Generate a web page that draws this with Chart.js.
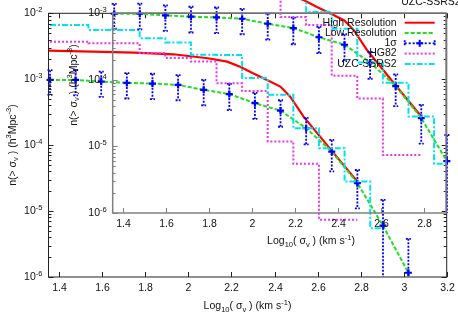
<!DOCTYPE html>
<html>
<head>
<meta charset="utf-8">
<script src="https://cdn.jsdelivr.net/npm/chart.js@4.4.0/dist/chart.umd.min.js"></script>
<style>
html, body { margin: 0; padding: 0; background: #fff; }
#wrap { position: relative; width: 458px; height: 321px; }
#wrap canvas { position: absolute; left: 0; top: 0; }
</style>
</head>
<body>
<div id="wrap">
<canvas id="principal" width="458" height="321"></canvas>
<canvas id="inserto" width="458" height="321"></canvas>
</div>
<script>
// centros de bin en log10(sigma_v)
const binX = [1.357, 1.476, 1.595, 1.714, 1.833, 1.952, 2.071, 2.190, 2.309, 2.428, 2.547, 2.666, 2.785, 2.904, 3.022];
const lowRes = [9.75e-4, 9.75e-4, 9.2e-4, 8.8e-4, 8.6e-4, 8.2e-4, 6.9e-4, 5.95e-4, 4.33e-4, 3.34e-4, 1.81e-4, 8.0e-5, 2.65e-5, 6.0e-6, 1.16e-6];
const sigmaHi = [1.37e-3, 1.38e-3, 1.30e-3, 1.24e-3, 1.21e-3, 1.15e-3, 9.8e-4, 8.5e-4, 6.2e-4, 4.8e-4, 2.6e-4, 1.2e-4, 4.2e-5, 1.48e-5, 3.8e-6];
const sigmaLo = [5.8e-4, 5.7e-4, 5.4e-4, 5.1e-4, 5.0e-4, 4.8e-4, 4.0e-4, 3.4e-4, 2.5e-4, 1.9e-4, 1.03e-4, 4.0e-5, 1.1e-5, 0, 0];
const hg82 = [3.7e-3, 3.7e-3, 3.5e-3, 3.5e-3, 2.5e-3, 2.1e-3, 1.85e-3, 8.7e-4, 6.6e-4, 1.14e-4, 5.2e-5, 7.4e-6, 7.4e-6, 0, null];
const uzc = [6.65e-3, 6.65e-3, 5.6e-3, 5.6e-3, 4.2e-3, 3.6e-3, 2.35e-3, 2.33e-3, 1.04e-3, 5.8e-4, 1.81e-4, 9.0e-5, 2.8e-5, 5.5e-6, 0];

// alta resolucion
const highResX = [1.35, 1.55, 1.75, 1.93, 2.09, 2.18, 2.24, 2.30, 2.365, 2.427, 2.473, 2.535, 2.605, 2.675, 2.785, 2.785];
const highRes = [2.71e-3, 2.63e-3, 2.53e-3, 2.39e-3, 2.08e-3, 1.85e-3, 1.55e-3, 1.23e-3, 9.75e-4, 7.73e-4, 5.45e-4, 2.71e-4, 1.43e-4, 7.57e-5, 2.8e-5, 0];

const ticksXMain = [1.4, 1.6, 1.8, 2, 2.2, 2.4, 2.6, 2.8, 3, 3.2];
const ticksXInset = [1.4, 1.6, 1.8, 2, 2.2, 2.4, 2.6, 2.8];
const decadesMain = [-2, -3, -4, -5, -6];
const decadesInset = [-3, -4, -5, -6];
const legendLabels = ['High Resolution', 'Low Resolution', '1σ', 'HG82', 'UZC-SSRS2'];

const FONT = '"Liberation Sans", Arial, Helvetica, sans-serif';
const SIZE = 10.5;
const RED = '#ff0000', GREEN = '#22dd22', BLUE = '#0000ff', MAGENTA = '#ee33ee', CYAN = '#00e2ee';
const styles = [
    { color: RED, dash: [], width: 2 },
    { color: GREEN, dash: [4, 2], width: 2 },
    { color: BLUE, dash: [2, 2], width: 1.8 },
    { color: MAGENTA, dash: [2, 2], width: 2 },
    { color: CYAN, dash: [6, 2, 2, 2], width: 2 }
];

const xTitle = [['Log'], ['10', -1], ['( σ'], ['v', -1], [' ) (km s'], ['-1', 1], [')']];
const yTitle = [['n(> σ'], ['v', -1], [' ) (h'], ['3', 1], ['Mpc'], ['-3', 1], [')']];

function drawRich(ctx, parts, x, y, align) {
    let total = 0;
    parts.forEach(p => {
        ctx.font = (p[1] ? SIZE * 0.72 : SIZE) + 'px ' + FONT;
        total += ctx.measureText(p[0]).width;
    });
    let cx = align === 'center' ? x - total / 2 : align === 'right' ? x - total : x;
    ctx.textAlign = 'left';
    ctx.textBaseline = 'middle';
    parts.forEach(p => {
        ctx.font = (p[1] ? SIZE * 0.72 : SIZE) + 'px ' + FONT;
        const dy = p[1] === 1 ? -SIZE * 0.38 : p[1] === -1 ? SIZE * 0.32 : 0;
        ctx.fillText(p[0], cx, y + dy);
        cx += ctx.measureText(p[0]).width;
    });
}

function line(ctx, x1, y1, x2, y2) {
    ctx.beginPath();
    ctx.moveTo(x1, y1);
    ctx.lineTo(x2, y2);
    ctx.stroke();
}

// ejes estilo gnuplot, ticks hacia adentro
function ejes(cfg) {
    return {
        id: 'ejes',
        afterDraw(chart) {
            const ctx = chart.ctx;
            const { left, right, top, bottom } = chart.chartArea;
            const xs = chart.scales.x, ys = chart.scales.y;
            ctx.save();
            ctx.strokeStyle = cfg.color;
            ctx.lineWidth = cfg.width;
            ctx.strokeRect(left, top, right - left, bottom - top);
            ctx.lineWidth = 1;
            ctx.fillStyle = '#111';
            cfg.xTicks.forEach(v => {
                const px = Math.round(xs.getPixelForValue(v)) + 0.5;
                line(ctx, px, bottom, px, bottom - 5);
                if (cfg.mirror) line(ctx, px, top, px, top + 5);
                ctx.font = SIZE + 'px ' + FONT;
                ctx.textAlign = 'center';
                ctx.textBaseline = 'middle';
                ctx.fillText(String(v), px, bottom + 11.5);
            });
            cfg.decades.forEach(d => {
                for (let m = 1; m < 10; m++) {
                    const v = m * Math.pow(10, d);
                    if (v > ys.max * 1.0001 || v < ys.min * 0.9999) continue;
                    const py = Math.round(ys.getPixelForValue(v)) + 0.5;
                    const len = m === 1 ? 5 : 3;
                    line(ctx, left, py, left + len, py);
                    if (cfg.mirror) line(ctx, right, py, right - len, py);
                    if (m === 1) drawRich(ctx, [['10'], [String(d), 1]], left - 6, py, 'right');
                }
            });
            drawRich(ctx, xTitle, cfg.xTitle[0], cfg.xTitle[1], 'center');
            ctx.translate(cfg.yTitle[0], cfg.yTitle[1]);
            ctx.rotate(-Math.PI / 2);
            drawRich(ctx, yTitle, 0, 0, 'center');
            ctx.restore();
        }
    };
}

function leyenda(cfg) {
    return {
        id: 'leyenda',
        afterDraw(chart) {
            const ctx = chart.ctx;
            ctx.save();
            ctx.fillStyle = '#111';
            legendLabels.forEach((lab, i) => {
                const y = cfg.y0 + i * cfg.step;
                drawRich(ctx, [[lab]], cfg.textRight, y, 'right');
                const s = styles[i];
                const x1 = cfg.textRight + 8, x2 = cfg.textRight + 38;
                ctx.strokeStyle = s.color;
                ctx.lineWidth = s.width;
                ctx.setLineDash(s.dash);
                line(ctx, x1, y, x2, y);
                if (i === 2) {
                    ctx.setLineDash([2, 1]);
                    line(ctx, x1, y - 3, x1, y + 3);
                    line(ctx, x2, y - 3, x2, y + 3);
                    ctx.setLineDash([]);
                    ctx.lineWidth = 2;
                    const cx = (x1 + x2) / 2;
                    line(ctx, cx - 3.5, y, cx + 3.5, y);
                    line(ctx, cx, y - 3.5, cx, y + 3.5);
                }
                ctx.setLineDash([]);
            });
            ctx.restore();
        }
    };
}

// barras de error 1 sigma
const barras = {
    id: 'barras',
    beforeDatasetDraw(chart, args) {
        if (args.index !== 2) return;
        const ctx = chart.ctx;
        const xs = chart.scales.x, ys = chart.scales.y;
        const area = chart.chartArea;
        ctx.save();
        ctx.strokeStyle = BLUE;
        ctx.lineWidth = 1.8;
        ctx.setLineDash([2, 1.5]);
        binX.forEach((v, i) => {
            const px = xs.getPixelForValue(v);
            if (px > area.right + 2) return;
            const yHi = ys.getPixelForValue(sigmaHi[i]);
            const yLo = sigmaLo[i] > 0 ? ys.getPixelForValue(sigmaLo[i]) : area.bottom;
            line(ctx, px, yHi, px, yLo);
            line(ctx, px - 2.5, yHi, px + 2.5, yHi);
            if (sigmaLo[i] > 0) line(ctx, px - 2.5, yLo, px + 2.5, yLo);
        });
        ctx.restore();
    }
};

function datasets(clip) {
    return [
        {
            label: 'High Resolution',
            data: highResX.map((x, i) => ({ x: x, y: highRes[i] })),
            borderColor: RED, borderWidth: 2.2, pointRadius: 0, order: 4, clip: clip
        },
        {
            label: 'Low Resolution',
            data: binX.map((x, i) => ({ x: x, y: lowRes[i] })),
            borderColor: GREEN, borderWidth: 2, borderDash: [4, 2], pointRadius: 0, order: 3, clip: clip
        },
        {
            label: '1σ',
            data: binX.map((x, i) => ({ x: x, y: lowRes[i] })),
            showLine: false, pointStyle: 'cross', pointRadius: 3.5, pointBorderWidth: 2.2,
            borderColor: BLUE, backgroundColor: BLUE, order: 2, clip: false
        },
        {
            label: 'HG82',
            data: binX.map((x, i) => ({ x: x, y: hg82[i] })),
            borderColor: MAGENTA, borderWidth: 2, borderDash: [2, 2], stepped: 'middle',
            pointRadius: 0, order: 1, clip: clip
        },
        {
            label: 'UZC-SSRS2',
            data: binX.map((x, i) => ({ x: x, y: uzc[i] })),
            borderColor: CYAN, borderWidth: 2, borderDash: [6, 2, 2, 2], stepped: 'middle',
            pointRadius: 0, order: 0, clip: clip
        }
    ];
}

function opciones(xmin, xmax, ymin, ymax, padding) {
    return {
        responsive: false,
        animation: false,
        events: [],
        layout: { padding: padding },
        plugins: { legend: { display: false }, tooltip: { enabled: false } },
        scales: {
            x: { type: 'linear', min: xmin, max: xmax, display: false },
            y: { type: 'logarithmic', min: ymin, max: ymax, display: false }
        }
    };
}

new Chart(document.getElementById('principal'), {
    type: 'line',
    data: { datasets: datasets(0) },
    options: opciones(1.35, 3.2, 1e-6, 1e-2, { left: 48.5, right: 11.3, top: 13.3, bottom: 44 }),
    plugins: [barras,
        ejes({ color: '#222', width: 1, xTicks: ticksXMain, decades: decadesMain, mirror: true,
               xTitle: [247.5, 306.5], yTitle: [13, 145] }),
        leyenda({ textRight: 460.7, y0: -39.5, step: 10.3 })]
});

new Chart(document.getElementById('inserto'), {
    type: 'line',
    data: { datasets: datasets(false) },
    options: opciones(1.35, 2.9, 1e-6, 1e-3, { left: 112.7, right: 12, top: 13, bottom: 108 }),
    plugins: [barras,
        ejes({ color: '#808080', width: 1.5, xTicks: ticksXInset, decades: decadesInset, mirror: false,
               xTitle: [311, 241.5], yTitle: [74, 85] }),
        leyenda({ textRight: 396.7, y0: 22.7, step: 10.3 })]
});
</script>
</body>
</html>
